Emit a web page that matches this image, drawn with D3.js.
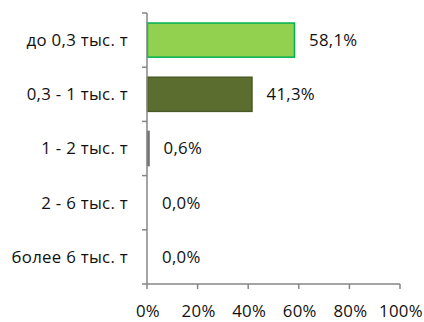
<!DOCTYPE html>
<html>
<head>
<meta charset="utf-8">
<script src="https://cdn.jsdelivr.net/npm/d3@7/dist/d3.min.js"></script>
<style>
  html, body { margin: 0; padding: 0; background: #fff; }
  svg text { font-family: "Open Sans", "Noto Sans", sans-serif; fill: #111; letter-spacing: 0.3px; }
</style>
</head>
<body>
<svg id="chart" width="424" height="322"></svg>
<script>
// Share of output by size group
const categories = ["до 0,3 тыс. т", "0,3 - 1 тыс. т", "1 - 2 тыс. т", "2 - 6 тыс. т", "более 6 тыс. т"];
const values = [58.1, 41.3, 0.6, 0.0, 0.0];
const valueLabels = ["58,1%", "41,3%", "0,6%", "0,0%", "0,0%"];
const xTicks = [0, 20, 40, 60, 80, 100];
const fills = ["#92d050", "#5b6e30", "#7f7f7f", "#7f7f7f", "#7f7f7f"];
const strokes = ["#00b050", "#4a5a26", "#6f6f6f", "#6f6f6f", "#6f6f6f"];

const svg = d3.select("#chart");
const plotLeft = 147, plotRight = 400, plotTop = 13, plotBottom = 284;
const axisColor = "#868686";
const fontSize = 16.8;

const x = d3.scaleLinear().domain([0, 100]).range([plotLeft, plotRight]);
const y = d3.scaleBand().domain(categories).range([plotTop, plotBottom]).paddingInner(0.37).paddingOuter(0.185);
const yBand = d3.scaleBand().domain(categories).range([plotTop, plotBottom]);

// bars
svg.selectAll("rect.bar")
  .data(values)
  .join("rect")
  .attr("class", "bar")
  .attr("x", x(0) + 0.5)
  .attr("y", (d, i) => y(categories[i]))
  .attr("width", d => Math.max(0, x(d) - x(0)))
  .attr("height", y.bandwidth())
  .attr("fill", (d, i) => fills[i])
  .attr("stroke", (d, i) => strokes[i])
  .attr("stroke-width", 1.5)
  .style("display", d => d > 0 ? null : "none");

// value labels
svg.selectAll("text.val")
  .data(values)
  .join("text")
  .attr("class", "val")
  .attr("x", d => x(d) + 15)
  .attr("y", (d, i) => yBand(categories[i]) + yBand.bandwidth() / 2)
  .attr("dy", "0.35em")
  .attr("font-size", fontSize)
  .text((d, i) => valueLabels[i]);

// category axis
const yAxis = svg.append("g").attr("transform", `translate(${plotLeft},0)`);
yAxis.append("line").attr("x1", 0).attr("x2", 0).attr("y1", plotTop).attr("y2", plotBottom)
  .attr("stroke", axisColor).attr("stroke-width", 1.5);
const bounds = categories.map(c => yBand(c)).concat([plotBottom]);
yAxis.selectAll("line.tick").data(bounds).join("line")
  .attr("class", "tick").attr("x1", -5).attr("x2", 0)
  .attr("y1", d => d).attr("y2", d => d)
  .attr("stroke", axisColor).attr("stroke-width", 1.5);
yAxis.selectAll("text").data(categories).join("text")
  .attr("x", -19)
  .attr("y", d => yBand(d) + yBand.bandwidth() / 2)
  .attr("dy", "0.35em")
  .attr("text-anchor", "end")
  .attr("font-size", fontSize)
  .text(d => d);

// value axis
const xAxis = svg.append("g");
xAxis.append("line").attr("x1", plotLeft).attr("x2", plotRight).attr("y1", plotBottom).attr("y2", plotBottom)
  .attr("stroke", axisColor).attr("stroke-width", 1.5);
xAxis.selectAll("line.tick").data(xTicks).join("line")
  .attr("class", "tick")
  .attr("x1", d => x(d)).attr("x2", d => x(d))
  .attr("y1", plotBottom).attr("y2", plotBottom + 5)
  .attr("stroke", axisColor).attr("stroke-width", 1.5);
xAxis.selectAll("text").data(xTicks).join("text")
  .attr("x", d => x(d) + 1)
  .attr("y", plotBottom + 27)
  .attr("dy", "0.35em")
  .attr("text-anchor", "middle")
  .attr("font-size", fontSize)
  .text(d => d + "%");
</script>
</body>
</html>
